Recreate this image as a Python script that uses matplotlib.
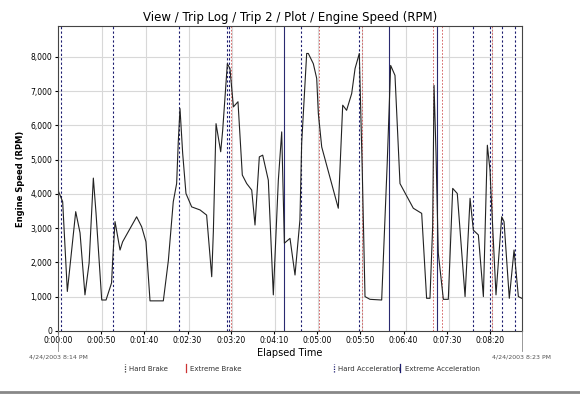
import matplotlib
matplotlib.use("Agg")
import matplotlib.pyplot as plt
from matplotlib.lines import Line2D

t = [0,5.4,10.8,20.5,25.5,31.2,36,40.9,44,50.6,55.6,62,63.3,66,71.8,74.8,91,96.8,101.8,106.5,121.9,127.7,133.4,137.3,139.2,141.2,144.3,148.1,154.7,164.4,172,177.9,179.8,182.9,188.3,190.6,196,199,203,208.3,213.3,218.4,224.2,228,233,236.9,243.4,249.2,255,258.9,262,268.5,274.3,280,282,287.8,289.7,295.5,299.4,301.3,305.2,324.4,329.5,334,339.9,343.8,348.7,352.2,355.3,361,374.6,381,385,390,395.8,411.2,420.9,426.6,430.5,433.6,435.2,437.5,440.1,446,451.7,456.8,462.1,471.1,476.9,480.7,486.5,492.3,496.9,500,500.8,506.9,513.5,516.2,522.3,527.8,532.8,536.7]
rpm = [4110,3770,1150,3480,2860,1050,1980,4460,3440,900,900,1400,2070,3190,2360,2600,3330,3040,2600,875,875,2050,3770,4300,5520,6490,5180,4010,3620,3530,3380,1580,2900,6050,5230,5860,7800,7660,6540,6690,4550,4300,4110,3090,5080,5130,4400,1050,4400,5810,2560,2700,1630,3240,5470,8100,8100,7800,7370,6350,5370,3580,6590,6440,6930,7660,8100,4600,1000,920,900,4890,7750,7460,4300,3580,3430,950,950,3040,7170,5180,2270,920,920,4160,4010,1000,3870,2940,2800,1000,5420,4690,4210,1050,3330,3190,950,2360,1000,950]

hard_accel = [3.5,64,140,196,198,281,348,480,500,514,529]
extreme_brake = [200,302,352,434,444,502]
extreme_accel = [262,383,439]
grid_x = [51,102,152,201,251,301,352,403,452,502]
xticks = [0,50,100,150,200,250,300,350,400,450,500]
xticklabels = ["0:00:00","0:00:50","0:01:40","0:02:30","0:03:20","0:04:10","0:05:00","0:05:50","0:06:40","0:07:30","0:08:20"]
yticks = list(range(0,9000,1000))
yticklabels = ["0","1,000","2,000","3,000","4,000","5,000","6,000","7,000","8,000"]

fig = plt.figure(figsize=(5.8,4.01), dpi=100)
ax = fig.add_axes([0.1,0.175,0.8,0.76])
ax.set_xlim(0,537); ax.set_ylim(0,8900)
for y in yticks[1:]:
    ax.axhline(y,color="#d8d8d8",lw=0.8,zorder=0)
for x in grid_x:
    ax.axvline(x,color="#d8d8d8",lw=0.8,zorder=0)
for x in hard_accel:
    ax.axvline(x,color="#1a1a6e",lw=0.8,ls=(0,(2,2)),zorder=1)
for x in extreme_brake:
    ax.axvline(x,color="#d05050",lw=0.6,ls=(0,(2,2)),zorder=1)
for x in extreme_accel:
    ax.axvline(x,color="#2a2a70",lw=0.8,zorder=1)
ax.plot(t,rpm,color="#222222",lw=0.8,zorder=2)
ax.set_xticks(xticks); ax.set_xticklabels(xticklabels,fontsize=5.5)
ax.set_yticks(yticks); ax.set_yticklabels(yticklabels,fontsize=5.5)
ax.tick_params(length=2,pad=2)
ax.set_title("View / Trip Log / Trip 2 / Plot / Engine Speed (RPM)",fontsize=8.5,pad=4)
ax.set_ylabel("Engine Speed (RPM)",fontsize=6,fontweight="bold")
ax.set_xlabel("Elapsed Time",fontsize=7,labelpad=2)
for s in ax.spines.values(): s.set_color("#444444")
fig.text(0.1,0.107,"4/24/2003 8:14 PM",fontsize=4.5,ha="center",color="#555555")
fig.text(0.9,0.107,"4/24/2003 8:23 PM",fontsize=4.5,ha="center",color="#555555")
fig.add_artist(Line2D([0.1,0.1],[0.175,0.125],color="#888888",lw=0.6))
fig.add_artist(Line2D([0.9,0.9],[0.175,0.125],color="#888888",lw=0.6))
items = [(0.215,"Hard Brake","#333333",(0,(1,1))),(0.32,"Extreme Brake","#cc3333","-"),
         (0.575,"Hard Acceleration","#1a1a6e",(0,(1,1))),(0.69,"Extreme Acceleration","#1a1a6e","-")]
for x,lab,c,ls in items:
    fig.add_artist(Line2D([x,x],[0.072,0.092],color=c,lw=0.9,ls=ls))
    fig.text(x+0.008,0.075,lab,fontsize=5,color="#333333")
fig.add_artist(Line2D([0,1],[0.022,0.022],color="#888888",lw=2))
fig.savefig("out.png",dpi=100)
